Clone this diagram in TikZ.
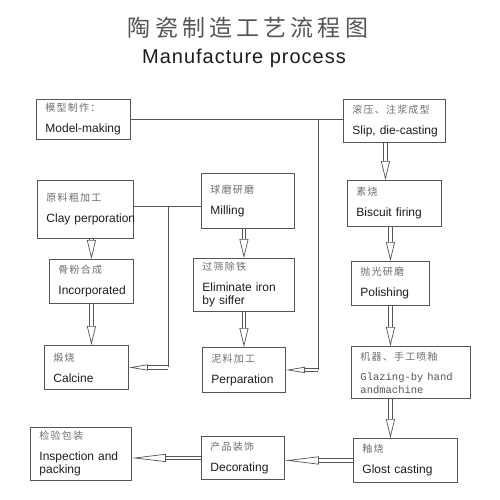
\documentclass[tikz,border=0pt]{standalone}
\usepackage{fontspec}
\setmainfont{Liberation Sans}
\setmonofont{Liberation Mono}
\newfontfamily\zhfont[LetterSpace=12]{Noto Sans CJK SC}
\newfontfamily\zhtitle[LetterSpace=18]{Noto Sans CJK SC}
\newfontfamily\subfont[LetterSpace=5]{Liberation Sans}
\usetikzlibrary{arrows.meta,calc,positioning}
\definecolor{boxgray}{HTML}{555555}
\definecolor{zhgray}{HTML}{6E6E6E}
\definecolor{engray}{HTML}{1E1E1E}
\newcommand{\zh}[1]{{\zhfont\fontsize{10}{12}\selectfont\color{zhgray}#1}}

\begin{document}
\begin{tikzpicture}[x=1pt,y=-1pt,
  stage/.style 2 args={draw=boxgray,line width=0.9pt,anchor=north west,inner xsep=9pt,inner ysep=0pt,
    text width=#1,minimum height=#2,align=left,text=engray,font=\fontsize{12}{13}\selectfont,
    execute at begin node={\hyphenpenalty=10000\exhyphenpenalty=10000}},
  wire/.style={boxgray,line width=0.8pt},
  hollow/.style={boxgray,line width=0.7pt,double=white,double distance=2.8pt,-{Triangle[open,length=19pt,width=9pt]}},
  hollow long/.style={hollow,-{Triangle[open,length=34pt,width=8pt]}},
  hollow slim/.style={hollow,-{Triangle[open,length=19pt,width=6pt]}}]
  \useasboundingbox[fill=white] (0,0) rectangle (500,500);
  \node[font=\zhtitle\fontsize{23}{25}\selectfont,text=boxgray] (title) at (248,28) {陶瓷制造工艺流程图};
  \node[font=\subfont\fontsize{20}{22}\selectfont,text=engray] (subtitle) at (244,58) {Manufacture process};
  \node[stage={76pt}{40pt}] (model) at (36,99) {\zh{模型制作：}\\[8pt]Model-making};
  \node[stage={84pt}{43pt}] (slip) at (343,99) {\zh{滚压、注浆成型}\\[8pt]Slip,~die-casting};
  \node[stage={78pt}{58pt}] (clay) at (37,180) {\zh{原料粗加工}\\[8pt]Clay~perporation};
  \node[stage={75pt}{55pt}] (milling) at (201,173) {\zh{球磨研磨}\\[8pt]Milling};
  \node[stage={76pt}{46pt}] (biscuit) at (347,180) {\zh{素烧}\\[8pt]Biscuit~firing};
  \node[stage={66pt}{44pt}] (incorp) at (49,259) {\zh{骨粉合成}\\[8pt]Incorporated};
  \node[stage={83pt}{53pt}] (elim) at (193,258) {\zh{过筛除铁}\\[8pt]Eliminate iron\\by siffer};
  \node[stage={60pt}{44pt}] (polish) at (351,261) {\zh{抛光研磨}\\[8pt]Polishing};
  \node[stage={66pt}{44pt}] (calcine) at (44,345) {\zh{煅烧}\\[8pt]Calcine};
  \node[stage={65pt}{45pt}] (perp) at (202,347) {\zh{泥料加工}\\[8pt]Perparation};
  \node[stage={101pt}{52pt}] (glaze) at (351,346) {\zh{机器、手工喷釉}\\[8pt]{\ttfamily\fontsize{10.5}{12}\selectfont\color{boxgray}Glazing-by~hand\\andmachine}};
  \node[stage={86pt}{44pt}] (glost) at (353,438) {\zh{釉烧}\\[8pt]Glost~casting};
  \node[stage={65pt}{43pt}] (decor) at (201,436) {\zh{产品装饰}\\[8pt]Decorating};
  \node[stage={83pt}{53pt}] (insp) at (30,427) {\zh{检验包装}\\[8pt]Inspection and\\packing};
  \coordinate (j1) at ($(model.east)+(187,0)$);
  \coordinate (j2) at ($(clay.east)+(34,-3)$);
  \draw[wire] ([yshift=3pt]clay.east) -- ([yshift=3pt]clay.east -| milling.west);
  \draw[wire] (model.east) -- (model.east -| slip.west);
  \draw[wire] (j1) -- (j1 |- perp.east);
  \draw[hollow slim] (j1 |- perp.east) -- (perp.east);
  \draw[wire] (j2) -- (j2 |- calcine.east);
  \draw[hollow slim] (j2 |- calcine.east) -- (calcine.east);
  \draw[hollow] (incorp.south |- clay.south) -- (incorp.north);
  \draw[hollow] (incorp.south) -- (incorp.south |- calcine.north);
  \draw[hollow] (elim.north |- milling.south) -- (elim.north);
  \draw[hollow] (elim.south) -- (elim.south |- perp.north);
  \draw[hollow] ([xshift=-9pt]slip.south) -- ([xshift=-9pt]slip.south |- biscuit.north);
  \draw[hollow] (polish.north |- biscuit.south) -- (polish.north);
  \draw[hollow] (polish.south) -- (polish.south |- glaze.north);
  \draw[hollow] (polish.south |- glaze.south) -- (polish.south |- glost.north);
  \draw[hollow long] (glost.west) -- (glost.west -| decor.east);
  \draw[hollow long] (decor.west) -- (decor.west -| insp.east);
\end{tikzpicture}
\end{document}
